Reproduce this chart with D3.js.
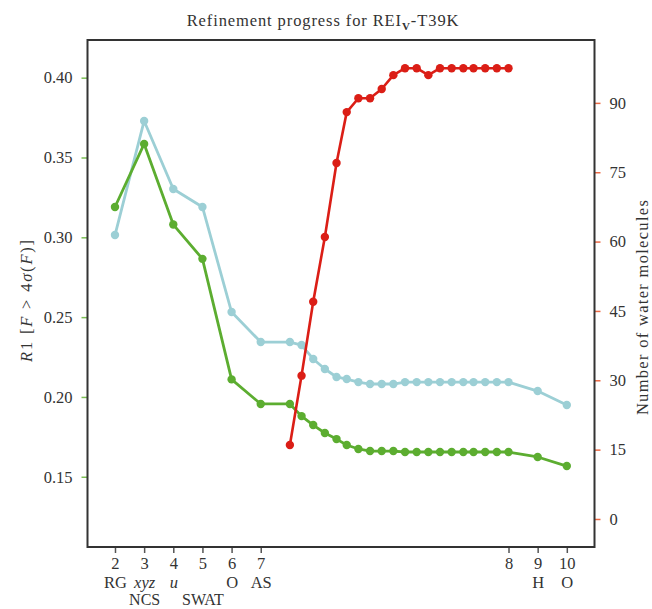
<!DOCTYPE html>
<html><head><meta charset="utf-8">
<script src="https://cdn.jsdelivr.net/npm/d3@7"></script>
<style>
body{margin:0;background:#fff;}
text{font-family:"Liberation Serif","Times New Roman",serif;fill:#333;}
</style></head>
<body><svg id="chart" width="652" height="609"></svg>
<script>
// ---- data ----
const stepX = [2, 3, 4, 5, 6, 7];
const cycleX = [8.0, 8.4, 8.8, 9.2, 9.6, 9.95, 10.35, 10.75, 11.15, 11.55, 11.95, 12.35, 12.75, 13.15, 13.55, 13.95, 14.3, 14.7, 15.1, 15.5];
const tailX = [16.5, 17.5];
const r1Green = [0.319, 0.3585, 0.308, 0.2865, 0.211, 0.1956,
  0.1956, 0.188, 0.1824, 0.1774, 0.1736, 0.1699, 0.1674, 0.1661, 0.1661, 0.1661, 0.1655, 0.1655, 0.1655, 0.1655, 0.1655, 0.1655, 0.1655, 0.1655, 0.1655, 0.1655,
  0.1624, 0.1567];
const r1Cyan = [0.3014, 0.3729, 0.3303, 0.319, 0.2532, 0.2344,
  0.2344, 0.2325, 0.2238, 0.2175, 0.2125, 0.2112, 0.2093, 0.2081, 0.2081, 0.2081, 0.2093, 0.2093, 0.2093, 0.2093, 0.2093, 0.2093, 0.2093, 0.2093, 0.2093, 0.2093,
  0.2037, 0.195];
const waters = [16, 31, 47, 61, 77, 88, 91, 91, 93, 96, 97.5, 97.5, 96, 97.5, 97.5, 97.5, 97.5, 97.5, 97.5, 97.5];
const xTickPos = [2, 3, 4, 5, 6, 7, 15.5, 16.5, 17.5];
const xTickNum = ["2", "3", "4", "5", "6", "7", "8", "9", "10"];
const xTickRow1 = ["RG", "xyz", "u", "", "O", "AS", "", "H", "O"];
const xTickRow2 = ["", "NCS", "", "SWAT", "", "", "", "", ""];
const italicRow1 = ["xyz", "u"];
const leftTicks = [0.15, 0.20, 0.25, 0.30, 0.35, 0.40];
const rightTicks = [0, 15, 30, 45, 60, 75, 90];

// ---- layout ----
const svg = d3.select("#chart");
const L = 87.5, R = 594.5, T = 40, B = 547;
const C_GREEN = "#5cad30", C_CYAN = "#9ccfd5", C_RED = "#db1e16";

const allX = stepX.concat(cycleX, tailX);
const x = d3.scaleLinear().domain([1.057, 18.45]).range([L, R]);
const yL = d3.scaleLinear().domain([0.106, 0.4236]).range([B, T]);
const yR = d3.scaleLinear().domain([-6.06, 103.6]).range([B, T]);

// axes
const gL = svg.append("g").attr("transform", `translate(${L},0)`)
  .call(d3.axisLeft(yL).tickValues(leftTicks).tickFormat(d3.format(".2f")).tickSize(6).tickPadding(9));
gL.select(".domain").remove();
gL.selectAll(".tick line").attr("stroke", "#7cbf55").attr("stroke-width", 1.5);
gL.selectAll(".tick text").attr("font-size", 16.5).attr("font-family", "Liberation Serif").attr("fill", "#444");

const gR = svg.append("g").attr("transform", `translate(${R},0)`)
  .call(d3.axisRight(yR).tickValues(rightTicks).tickFormat(d3.format("d")).tickSize(6).tickPadding(9));
gR.select(".domain").remove();
gR.selectAll(".tick line").attr("stroke", "#ec6a45").attr("stroke-width", 1.5);
gR.selectAll(".tick text").attr("font-size", 16.5).attr("font-family", "Liberation Serif").attr("fill", "#444");

const gB = svg.append("g").attr("transform", `translate(0,${B})`)
  .call(d3.axisBottom(x).tickValues(xTickPos).tickFormat((d, i) => xTickNum[i]).tickSize(6).tickPadding(4));
gB.select(".domain").remove();
gB.selectAll(".tick line").attr("stroke", "#555").attr("stroke-width", 1.5);
gB.selectAll(".tick text").attr("font-size", 16.5).attr("font-family", "Liberation Serif").attr("fill", "#444");
gB.selectAll(".tick").each(function(d, i) {
  const g = d3.select(this);
  if (xTickRow1[i]) g.append("text").attr("y", 41).attr("text-anchor", "middle")
    .attr("font-size", 16.5).attr("fill", "#333")
    .attr("font-style", italicRow1.includes(xTickRow1[i]) ? "italic" : "normal")
    .text(xTickRow1[i]);
  if (xTickRow2[i]) g.append("text").attr("y", 58).attr("text-anchor", "middle")
    .attr("font-size", 16).attr("fill", "#333").text(xTickRow2[i]);
});

// frame
svg.append("rect").attr("x", L).attr("y", T).attr("width", R - L).attr("height", B - T)
  .attr("fill", "none").attr("stroke", "#333").attr("stroke-width", 2);

// series
function drawSeries(xs, ys, yScale, color, w) {
  const pts = xs.map((d, i) => [x(d), yScale(ys[i])]);
  svg.append("path").attr("d", d3.line()(pts)).attr("fill", "none")
    .attr("stroke", color).attr("stroke-width", w).attr("stroke-linejoin", "round");
  svg.append("g").selectAll("circle").data(pts).join("circle")
    .attr("cx", d => d[0]).attr("cy", d => d[1]).attr("r", 4.2).attr("fill", color);
}
drawSeries(allX, r1Cyan, yL, C_CYAN, 2.8);
drawSeries(allX, r1Green, yL, C_GREEN, 2.8);
drawSeries(cycleX, waters, yR, C_RED, 2.6);

// title
const title = svg.append("text").attr("x", 323).attr("y", 26).attr("text-anchor", "middle")
  .attr("font-size", 16.5).attr("letter-spacing", 0.9);
title.append("tspan").text("Refinement progress for REI");
title.append("tspan").attr("font-size", 11).attr("font-weight", "bold").attr("dy", 4).text("V");
title.append("tspan").attr("dy", -4).text("-T39K");

// left axis title
const lt = svg.append("text").attr("transform", "translate(32,300) rotate(-90)").attr("text-anchor", "middle")
  .attr("font-size", 16.5).attr("letter-spacing", 1.8);
lt.append("tspan").attr("font-style", "italic").text("R");
lt.append("tspan").text("1 [");
lt.append("tspan").attr("font-style", "italic").text("F");
lt.append("tspan").text(" > 4");
lt.append("tspan").attr("font-style", "italic").text("σ");
lt.append("tspan").text("(");
lt.append("tspan").attr("font-style", "italic").text("F");
lt.append("tspan").text(")]");

// right axis title
svg.append("text").attr("transform", "translate(648,307) rotate(-90)").attr("text-anchor", "middle")
  .attr("font-size", 16.5).attr("letter-spacing", 1.3).text("Number of water molecules");
</script></body></html>
